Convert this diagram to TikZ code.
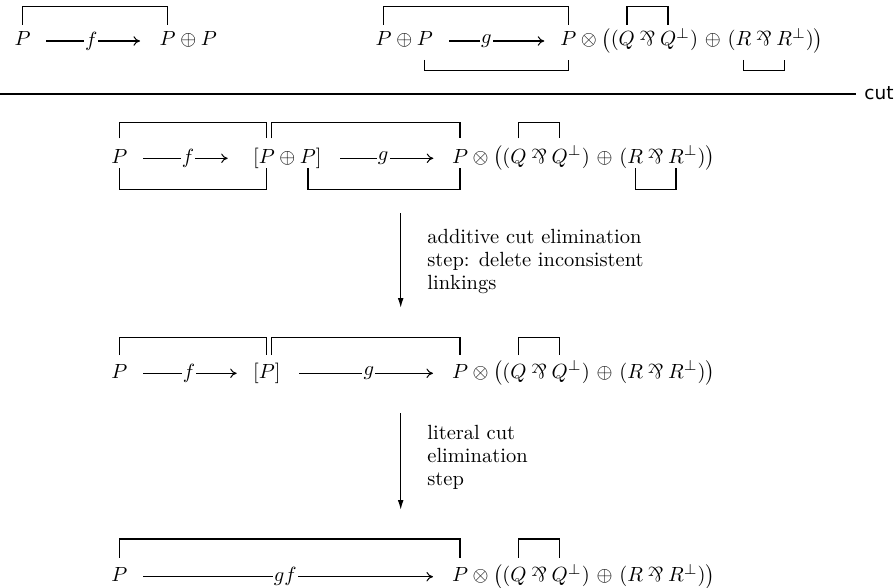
\documentclass[tikz,border=0pt]{standalone}
\usepackage{fontspec}
\usepackage{graphicx}
\usetikzlibrary{arrows.meta}
\newfontfamily\cutfont{DejaVu Sans}
% multiplicative disjunction (par): an upside-down ampersand
\newcommand\parrop{\mathbin{\rotatebox[origin=c]{180}{$\&$}}}

\tikzset{
  atom/.style={inner sep=0pt, outer sep=0pt, anchor=base west},
  link/.style={line width=0.65pt},
  harrow/.style={line width=0.5pt, -{Computer Modern Rightarrow[length=3.2pt,width=4.6pt]}},
  lbl/.style={fill=white, inner sep=0.6pt},
  varrow/.style={line width=0.65pt, -{Latex[length=4.8pt,width=2.8pt]}},
  note/.style={anchor=base west, align=left, inner sep=0pt, font=\fontsize{10}{11}\selectfont},
  cutline/.style={line width=1pt},
}

% P (x) ((Q par Q^perp) (+) (R par R^perp)), one node per piece
\newcommand\bigformula[2]{%
  \node[atom] (#1p) at (#2) {$P$};
  \node[atom] (#1a) at (#1p.base east) {${}\otimes\bigl(($};
  \node[atom] (#1q) at (#1a.base east) {$Q$};
  \node[atom] (#1b) at (#1q.base east) {${}\parrop{}$};
  \node[atom] (#1qq) at (#1b.base east) {$Q$};
  \node[atom] (#1c) at (#1qq.base east) {$^{\perp})\mkern2mu\oplus\mkern2mu($};
  \node[atom] (#1r) at (#1c.base east) {$R$};
  \node[atom] (#1d) at (#1r.base east) {${}\parrop{}$};
  \node[atom] (#1rr) at (#1d.base east) {$R$};
  \node[atom] (#1e) at (#1rr.base east) {$^{\perp})\bigr)$};
}
% axiom link: bar at height #3, legs ending at height #4
\newcommand\linkbar[4]{\draw[link] (#1 |- 0,#4) -- (#1 |- 0,#3) -| (#2 |- 0,#4);}
% labelled arrow between two nodes, gaps #3/#4, label position #5
\newcommand\labarrow[6]{\draw[harrow] ([shift={(#3,-5)}]#1.base east) -- node[lbl,pos=#5]{$#6$} ([shift={(-#4,-5)}]#2.base west);}

\begin{document}
\begin{tikzpicture}[x=0.4878pt, y=-0.4878pt]
\useasboundingbox (0,0) rectangle (896,588);

% ---- first line: the two proofs f and g
\node[atom] (a1) at (14.7,46) {$P$};
\node[atom] (b1) at (159.7,46) {$P$};
\node[atom] (bop) at (b1.base east) {${}\oplus{}$};
\node[atom] (b2) at (bop.base east) {$P$};
\labarrow{a1}{b1}{15.3}{19.7}{0.48}{f}
\linkbar{a1}{b1}{6.7}{25}

\node[atom] (c1) at (375.7,46) {$P$};
\node[atom] (cop) at (c1.base east) {${}\oplus{}$};
\node[atom] (c2) at (cop.base east) {$P$};
\bigformula{F1}{560.3,46}
\labarrow{c2}{F1p}{16.7}{16}{0.39}{g}
\linkbar{c1}{F1p}{6.7}{25}
\linkbar{F1q}{F1qq}{6.7}{25}
\linkbar{c2}{F1p}{70.7}{60}
\linkbar{F1r}{F1rr}{70.7}{60}

% ---- the cut
\node[anchor=base west, inner sep=0pt, font=\cutfont\fontsize{9}{10}\selectfont] (cutlbl) at (864,100) {cut};
\draw[cutline] (cutlbl.west -| 0,0) -- ([xshift=-4pt]cutlbl.west);

% ---- second line: composite before elimination
\node[atom] (a2) at (111.3,163.3) {$P$};
\node[atom] (br2) at (253.1,163.3) {$[$};
\node[atom] (m21) at (br2.base east) {$P$};
\node[atom] (op2) at (m21.base east) {${}\oplus{}$};
\node[atom] (m22) at (op2.base east) {$P$};
\node[atom] (cl2) at (m22.base east) {$]$};
\bigformula{F2}{452,163.3}
\coordinate (m21r) at ([xshift=2.44pt]m21.center);
\labarrow{a2}{br2}{16}{25.4}{0.53}{f}
\labarrow{cl2}{F2p}{18.8}{18.7}{0.46}{g}
\linkbar{a2}{m21}{122.7}{138.3}
\linkbar{m21r}{F2p}{122.7}{138.3}
\linkbar{F2q}{F2qq}{122.7}{138.3}
\linkbar{a2}{m21}{189.3}{168.3}
\linkbar{m22}{F2p}{189.3}{168.3}
\linkbar{F2r}{F2rr}{189.3}{168.3}

% ---- first elimination step
\coordinate (d1s) at (400.7,213);
\coordinate (d1e) at (400.7,308);
\draw[varrow] (d1s) -- (d1e);
\node[note] (n1) at (427,289) {additive cut elimination\\step: delete inconsistent\\linkings};

% ---- third line
\node[atom] (a3) at (111.3,378.3) {$P$};
\node[atom] (br3) at (253.1,378.3) {$[$};
\node[atom] (m3) at (br3.base east) {$P$};
\node[atom] (cl3) at (m3.base east) {$]$};
\bigformula{F3}{452,378.3}
\coordinate (m3r) at ([xshift=2.44pt]m3.center);
\labarrow{a3}{br3}{15.7}{16.4}{0.49}{f}
\labarrow{cl3}{F3p}{18.7}{19}{0.52}{g}
\linkbar{a3}{m3}{337.3}{355}
\linkbar{m3r}{F3p}{337.3}{355}
\linkbar{F3q}{F3qq}{337.3}{355}

% ---- second elimination step
\coordinate (d2s) at (400.7,413);
\coordinate (d2e) at (400.7,510);
\draw[varrow] (d2s) -- (d2e);
\node[note] (n2) at (427,485) {literal cut\\elimination\\step};

% ---- fourth line: the composite gf
\node[atom] (a4) at (111.3,581.7) {$P$};
\bigformula{F4}{452,581.7}
\labarrow{a4}{F4p}{16}{19}{0.49}{gf}
\linkbar{a4}{F4p}{539}{557.7}
\linkbar{F4q}{F4qq}{539}{557.7}
\end{tikzpicture}
\end{document}
